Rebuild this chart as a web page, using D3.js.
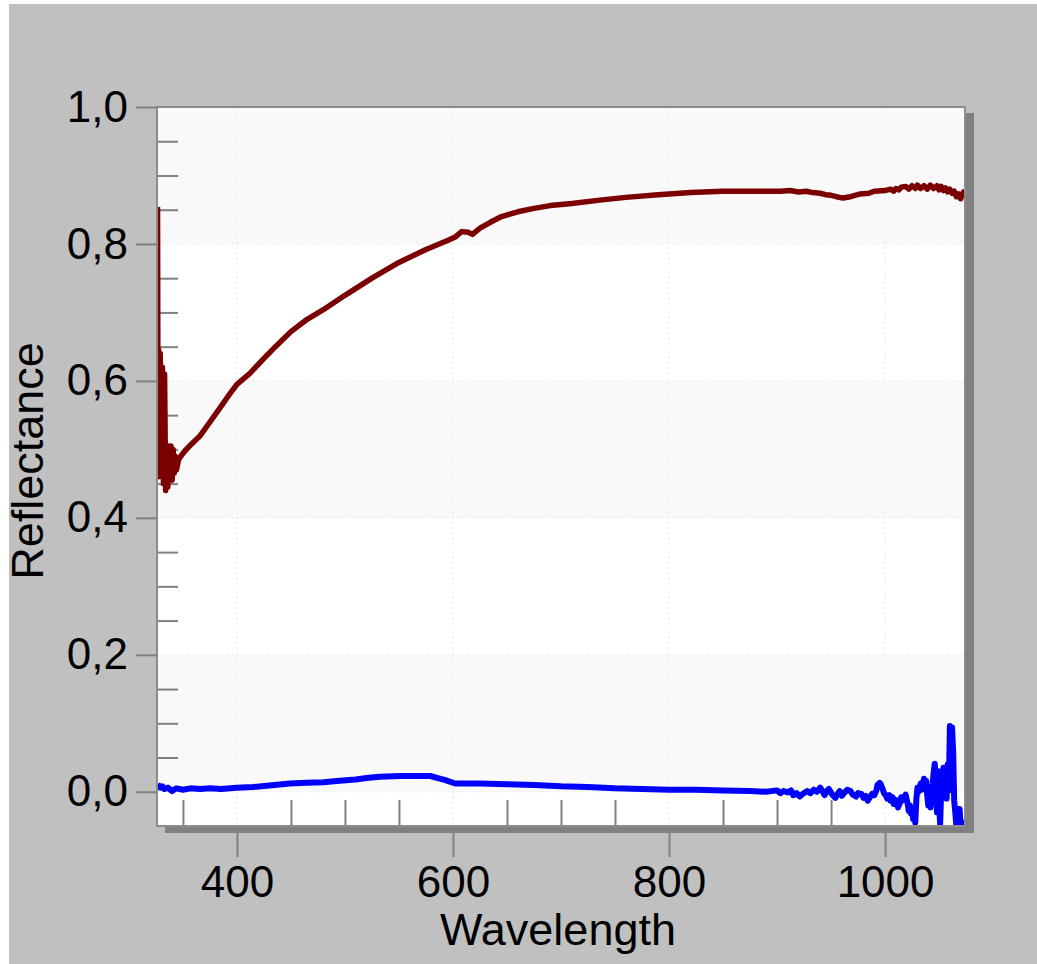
<!DOCTYPE html>
<html>
<head>
<meta charset="utf-8">
<script src="https://cdn.jsdelivr.net/npm/d3@7"></script>
<style>
  body { margin: 0; background: #ffffff; }
  svg { display: block; }
  text { font-family: "Liberation Sans", Arial, sans-serif; fill: #000; }
</style>
</head>
<body>
<svg id="chart" width="1037" height="964"></svg>
<script>
// 波长 (nm) 和反射率数据 —— 从图上读取
var redWl = [326.5, 327, 327.5, 328, 329, 330, 331, 332, 333, 334, 335, 336, 337, 338, 339, 340, 341, 342, 343, 344,
    346, 348, 352, 358, 366, 375, 384, 392, 400, 412, 425, 435, 450, 465, 480, 500, 525, 550, 575, 595,
    602, 608, 614, 618, 625, 635, 645, 660, 675, 690, 710, 736, 760, 790, 820, 850, 880, 903, 912, 920,
    927, 933, 940, 945, 950, 955, 961, 968, 977, 985, 990, 1000, 1005, 1008, 1010, 1013, 1015, 1019, 1022, 1025,
    1028, 1030, 1033, 1036, 1039, 1042, 1045, 1048, 1050, 1052, 1054, 1056, 1058, 1060, 1062, 1064, 1066, 1068, 1070, 1071,
    1072, 1074];
var redRefl = [0.854, 0.46, 0.645, 0.47, 0.64, 0.46, 0.62, 0.45, 0.61, 0.44, 0.50, 0.445, 0.505, 0.46, 0.505, 0.455, 0.50, 0.465, 0.49, 0.47,
    0.485, 0.49, 0.498, 0.508, 0.52, 0.54, 0.56, 0.578, 0.595, 0.611, 0.633, 0.649, 0.672, 0.690, 0.704, 0.725, 0.750, 0.773, 0.792, 0.805,
    0.810, 0.818, 0.817, 0.814, 0.823, 0.832, 0.840, 0.847, 0.852, 0.856, 0.859, 0.864, 0.868, 0.872, 0.875, 0.877, 0.877, 0.877, 0.878, 0.876,
    0.877, 0.875, 0.874, 0.872, 0.871, 0.869, 0.867, 0.869, 0.873, 0.874, 0.877, 0.878, 0.880, 0.877, 0.881, 0.879, 0.883, 0.884, 0.880, 0.885,
    0.881, 0.886, 0.881, 0.885, 0.880, 0.886, 0.881, 0.885, 0.879, 0.884, 0.878, 0.882, 0.876, 0.880, 0.874, 0.877, 0.869, 0.873, 0.866, 0.870,
    0.874, 0.878];

var blueWl = [326.5, 329, 331, 333, 336, 340, 344, 350, 357, 366, 375, 385, 400, 415, 430, 449, 465, 480, 495, 510,
    520, 532, 551, 565, 579, 586, 593, 602, 625, 650, 675, 700, 725, 750, 775, 800, 825, 850, 875, 890,
    900, 903, 906, 910, 913, 915, 918, 921, 924, 928, 931, 934, 937, 940, 942, 944, 946, 948, 951, 954,
    956, 958, 960, 962, 965, 968, 970, 973, 975, 978, 980, 982, 984, 986, 988, 990, 992, 993, 995, 996,
    998, 999, 1001, 1002, 1004, 1005, 1007, 1008, 1010, 1012, 1014, 1015, 1017, 1019, 1021, 1022, 1023, 1024, 1025, 1026,
    1027, 1028, 1029, 1030, 1031, 1033, 1034, 1036, 1037, 1038, 1039, 1040, 1041, 1042, 1043, 1044, 1045, 1046, 1047, 1048,
    1049, 1050, 1051, 1052, 1053, 1054, 1055, 1056, 1057, 1058, 1059, 1060, 1061, 1062, 1063, 1064, 1065, 1066, 1067, 1068,
    1069, 1070, 1072, 1074];
var blueRefl = [0.011, 0.006, 0.008, 0.004, 0.006, 0.001, 0.005, 0.003, 0.005, 0.004, 0.005, 0.004, 0.006, 0.007, 0.009, 0.012, 0.013, 0.014, 0.016, 0.018,
    0.020, 0.022, 0.023, 0.023, 0.023, 0.020, 0.017, 0.012, 0.012, 0.011, 0.010, 0.008, 0.007, 0.005, 0.004, 0.003, 0.003, 0.002, 0.001, 0.000,
    0.002, -0.002, 0.001, -0.001, 0.002, -0.005, -0.002, -0.007, -0.003, 0.001, -0.002, 0.003, 0.000, 0.006, 0.001, -0.005, 0.001, 0.004, -0.004, -0.009,
    -0.003, 0.001, -0.006, -0.002, 0.003, 0.001, -0.004, -0.007, -0.002, -0.003, -0.009, -0.006, -0.013, -0.008, -0.003, -0.005, 0.002, 0.010, 0.013, 0.011,
    0.003, -0.002, -0.006, -0.010, -0.005, -0.013, -0.008, -0.018, -0.012, -0.023, -0.015, -0.008, -0.012, -0.004, -0.018, -0.028, -0.020, -0.032, -0.025, -0.040,
    -0.030, -0.045, -0.010, 0.006, 0.000, 0.012, 0.003, 0.019, 0.008, 0.016, -0.005, -0.020, -0.010, -0.023, 0.000, 0.012, 0.028, 0.041, 0.015, -0.030,
    0.030, -0.020, -0.047, 0.005, 0.028, 0.035, 0.010, 0.032, -0.010, 0.040, 0.002, 0.096, 0.090, 0.094, 0.060, -0.013, -0.030, -0.050, -0.028, -0.045,
    -0.025, -0.050, -0.045, -0.050];

var yMajor = [0, 0.2, 0.4, 0.6, 0.8, 1.0];
var yMinor = [0.05, 0.1, 0.15, 0.25, 0.3, 0.35, 0.45, 0.5, 0.55, 0.65, 0.7, 0.75, 0.85, 0.9, 0.95];
var xMajor = [400, 600, 800, 1000];
var xMinor = [350, 450, 500, 550, 650, 700, 750, 850, 900, 950, 1050];
var bands = [[0.8, 1.0], [0.4, 0.6], [0.0, 0.2]];

var svg = d3.select("#chart");
var pLeft = 157, pRight = 965, pTop = 107, pBottom = 826;

var x = d3.scaleLinear().domain([326, 1074]).range([pLeft, pRight]);
var y = d3.scaleLinear().domain([-0.05, 1.0]).range([pBottom, pTop]);

// 灰色背景
svg.append("rect")
    .attr("x", 9).attr("y", 4)
    .attr("width", 1028).attr("height", 960)
    .attr("fill", "#c0c0c0");

// x 主刻度 (在阴影下面)
svg.append("g")
    .attr("class", "xMajor")
    .attr("transform", `translate(0,${pBottom})`)
    .call(d3.axisBottom(x).tickValues(xMajor).tickSize(31).tickPadding(9).tickFormat(d3.format("d")))
    .call(g => g.select(".domain").remove())
    .call(g => g.selectAll("line").attr("stroke", "#808080").attr("stroke-width", 2))
    .call(g => g.selectAll("text").attr("font-size", 44).attr("font-family", "Liberation Sans, Arial").attr("fill", "#000"));

// 阴影
svg.append("rect")
    .attr("x", pLeft + 8).attr("y", pTop + 6)
    .attr("width", pRight - pLeft + 1).attr("height", pBottom - pTop + 1)
    .attr("fill", "#808080");

// 绘图区
svg.append("rect")
    .attr("x", pLeft).attr("y", pTop)
    .attr("width", pRight - pLeft).attr("height", pBottom - pTop)
    .attr("fill", "#ffffff");

svg.append("g")
    .selectAll("rect")
    .data(bands)
    .join("rect")
    .attr("x", pLeft)
    .attr("y", d => y(d[1]))
    .attr("width", pRight - pLeft)
    .attr("height", d => y(d[0]) - y(d[1]))
    .attr("fill", "#f9f9f9");

// 网格线
var grid = svg.append("g").attr("class", "grid");
grid.selectAll("line.gx")
    .data(xMajor)
    .join("line")
    .attr("class", "gx")
    .attr("x1", d => x(d)).attr("x2", d => x(d))
    .attr("y1", pTop).attr("y2", pBottom)
    .attr("stroke", "#e8e8e8")
    .attr("stroke-dasharray", "2,3");
grid.selectAll("line.gy")
    .data(yMajor.filter(d => d < 1))
    .join("line")
    .attr("class", "gy")
    .attr("x1", pLeft).attr("x2", pRight)
    .attr("y1", d => y(d)).attr("y2", d => y(d))
    .attr("stroke", "#e8e8e8")
    .attr("stroke-dasharray", "2,3");

// 次刻度
svg.append("g")
    .attr("transform", `translate(${pLeft},0)`)
    .call(d3.axisRight(y).tickValues(yMinor).tickSize(21).tickFormat(""))
    .call(g => g.select(".domain").remove())
    .call(g => g.selectAll("line").attr("stroke", "#808080").attr("stroke-width", 2));

svg.append("g")
    .attr("transform", `translate(0,${pBottom})`)
    .call(d3.axisTop(x).tickValues(xMinor).tickSize(26).tickFormat(""))
    .call(g => g.select(".domain").remove())
    .call(g => g.selectAll("line").attr("stroke", "#808080").attr("stroke-width", 2));

// 曲线
svg.append("clipPath")
    .attr("id", "plotClip")
    .append("rect")
    .attr("x", pLeft).attr("y", pTop)
    .attr("width", pRight - pLeft).attr("height", pBottom - pTop);

var line = d3.line()
    .x(d => x(d[0]))
    .y(d => y(d[1]));

var curves = svg.append("g").attr("clip-path", "url(#plotClip)");

curves.append("path")
    .datum(blueWl.map((w, i) => [w, blueRefl[i]]))
    .attr("d", line)
    .attr("fill", "none")
    .attr("stroke", "#0000ff")
    .attr("stroke-width", 6)
    .attr("stroke-linejoin", "round");

curves.append("path")
    .datum(redWl.map((w, i) => [w, redRefl[i]]))
    .attr("d", line)
    .attr("fill", "none")
    .attr("stroke", "#7b0000")
    .attr("stroke-width", 5.5)
    .attr("stroke-linejoin", "round");

// 边框
svg.append("rect")
    .attr("x", pLeft).attr("y", pTop)
    .attr("width", pRight - pLeft).attr("height", pBottom - pTop)
    .attr("fill", "none")
    .attr("stroke", "#8c8c8c")
    .attr("stroke-width", 2);

// y 主刻度 + 标签
var commaFmt = d => d3.format(".1f")(d).replace(".", ",");
svg.append("g")
    .attr("transform", `translate(${pLeft},0)`)
    .call(d3.axisLeft(y).tickValues(yMajor).tickSize(21).tickPadding(8).tickFormat(commaFmt))
    .call(g => g.select(".domain").remove())
    .call(g => g.selectAll("line").attr("stroke", "#808080").attr("stroke-width", 2))
    .call(g => g.selectAll("text").attr("font-size", 44).attr("font-family", "Liberation Sans, Arial").attr("fill", "#000"));

// 坐标轴标题
svg.append("text")
    .text("Wavelength")
    .attr("x", 558)
    .attr("y", 945)
    .attr("text-anchor", "middle")
    .attr("font-size", 45);

svg.append("text")
    .text("Reflectance")
    .attr("transform", "translate(43,461) rotate(-90)")
    .attr("text-anchor", "middle")
    .attr("font-size", 45);
</script>
</body>
</html>
